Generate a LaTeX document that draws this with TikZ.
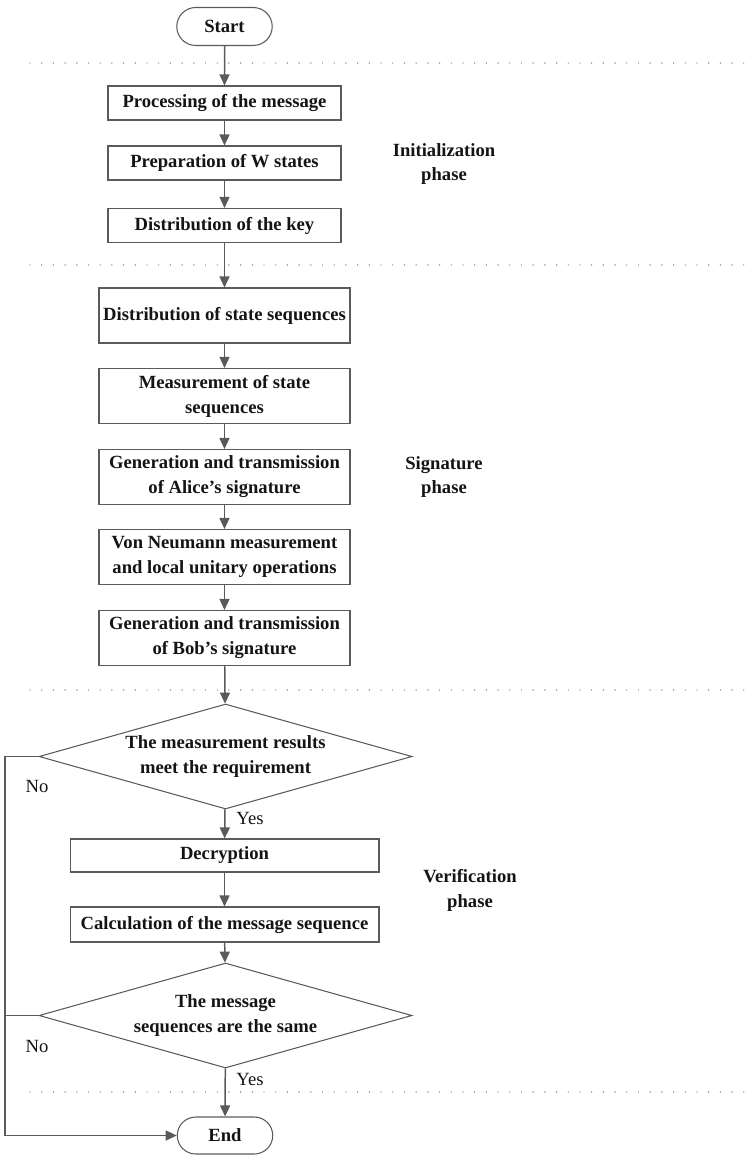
\documentclass[tikz,border=0pt]{standalone}
\usepackage{fontspec}
\setmainfont{Liberation Serif}
\usetikzlibrary{arrows.meta,shapes.geometric,shapes.misc}
\definecolor{FCLine}{HTML}{5A5A5A}
\definecolor{FCInk}{HTML}{141414}
\definecolor{FCDots}{HTML}{707070}
\tikzset{
  flow/.style={-{Triangle[length=6.3pt,width=5.7pt]},FCLine,line width=0.85pt},
  rail/.style={FCLine,line width=0.85pt},
  stepbox/.style={draw=FCLine,line width=0.6pt,rectangle,text=FCInk,align=center,
                  inner sep=1pt,font=\fontsize{10.6}{14.2}\selectfont\bfseries},
  terminal/.style={stepbox,rounded rectangle,minimum width=1.98cm,minimum height=0.76cm},
  decision/.style={stepbox,diamond,aspect=3.55,minimum width=7.46cm,minimum height=2.1cm,inner sep=0pt},
  phase/.style={text=FCInk,align=center,font=\fontsize{10.6}{14.2}\selectfont\bfseries},
  answer/.style={text=FCInk,font=\fontsize{10.6}{13}\selectfont},
  separator/.style={FCDots,line width=0.8pt,line cap=round,dash pattern=on 0pt off 6.66pt},
}
\begin{document}
\begin{tikzpicture}[x=.02cm,y=-.02cm]
  \useasboundingbox (0,0) rectangle (749,1155);
  % phase separators
  \foreach \y in {63,265,690,1092}{
    \draw[separator] (30,\y)--(749,\y);
  }
  % initialization phase
  \node[terminal] (start) at (224.5,26.5) {Start};
  \node[stepbox,minimum width=4.66cm,minimum height=0.68cm] (msg) at (224.5,103) {Processing of the message};
  \node[stepbox,minimum width=4.66cm,minimum height=0.68cm] (wst) at (224.5,163) {Preparation of W states};
  \node[stepbox,minimum width=4.66cm,minimum height=0.68cm] (key) at (224.5,225.5) {Distribution of the key};
  \node[phase] (initp) at (444,164) {Initialization\\phase};
  % signature phase
  \node[stepbox,minimum width=5.02cm,minimum height=1.1cm] (dist) at (224.5,315.5) {Distribution of state sequences};
  \node[stepbox,minimum width=5.02cm,minimum height=1.1cm] (meas) at (224.5,396) {Measurement of state\\sequences};
  \node[stepbox,minimum width=5.02cm,minimum height=1.1cm] (alice) at (224.5,477) {Generation and transmission\\of Alice’s signature};
  \node[stepbox,minimum width=5.02cm,minimum height=1.1cm] (vonn) at (224.5,557) {Von Neumann measurement\\and local unitary operations};
  \node[stepbox,minimum width=5.02cm,minimum height=1.1cm] (bob) at (224.5,638) {Generation and transmission\\of Bob’s signature};
  \node[phase] (signp) at (444,477) {Signature\\phase};
  % verification phase
  \node[decision] (chk) at (225.5,756.5) {The measurement results\\meet the requirement};
  \node[stepbox,minimum width=6.18cm,minimum height=0.66cm] (dec) at (224.5,855.5) {Decryption};
  \node[stepbox,minimum width=6.18cm,minimum height=0.7cm] (calc) at (224.5,924.5) {Calculation of the message sequence};
  \node[decision] (same) at (225.5,1015.5) {The message\\sequences are the same};
  \node[terminal,minimum height=0.74cm] (end) at (225,1135.5) {End};
  \node[phase] (verip) at (470,890) {Verification\\phase};
  \node[answer] (no1) at (37,786) {No};
  \node[answer] (yes1) at (250,818) {Yes};
  \node[answer] (no2) at (37,1046) {No};
  \node[answer] (yes2) at (250,1079) {Yes};
  % connectors
  \draw[flow] (start)--(msg);
  \draw[flow] (msg)--(wst);
  \draw[flow] (wst)--(key);
  \draw[flow] (key)--(dist);
  \draw[flow] (dist)--(meas);
  \draw[flow] (meas)--(alice);
  \draw[flow] (alice)--(vonn);
  \draw[flow] (vonn)--(bob);
  \draw[flow] (bob)--(chk);
  \draw[flow] (chk)--(dec);
  \draw[flow] (dec)--(calc);
  \draw[flow] (calc)--(same);
  \draw[flow] (same)--(end);
  \coordinate (left) at (5,0);
  \draw[flow] (chk.west)--(chk.west -| left) |- (end.west);
  \draw[rail] (same.west)--(same.west -| left);
\end{tikzpicture}
\end{document}
